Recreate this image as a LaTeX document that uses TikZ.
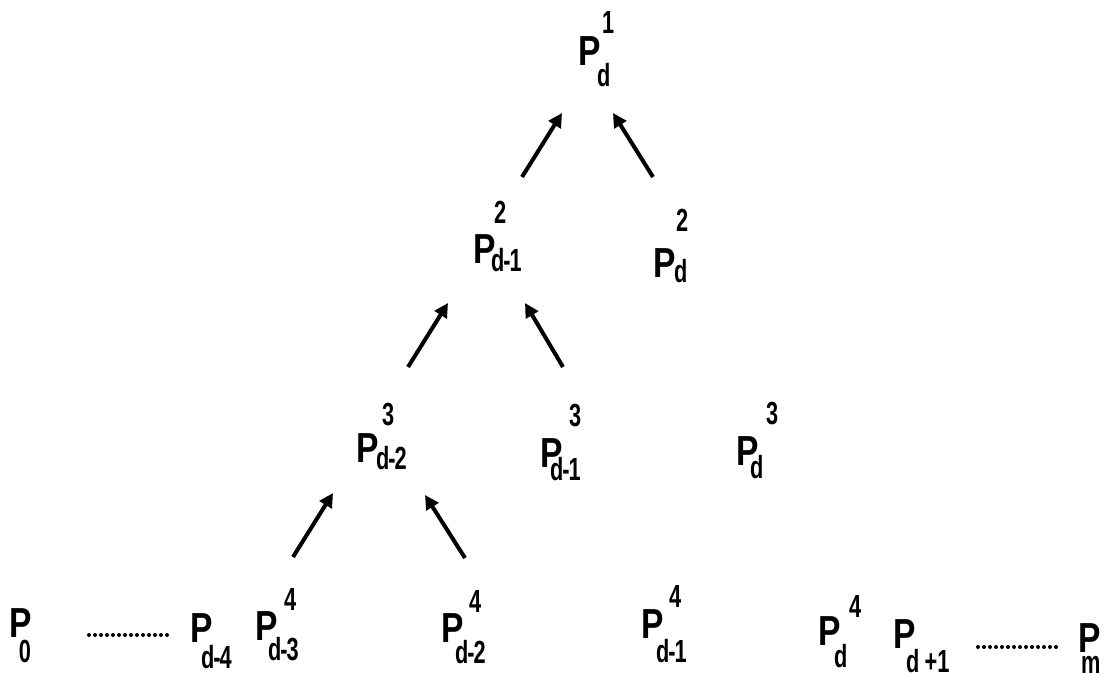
\documentclass[tikz,border=0pt]{standalone}
\usepackage{fontspec}
\setmainfont{Liberation Sans}[FakeStretch=0.8]
\newfontfamily\subf{Liberation Sans}[FakeStretch=0.68]
\usetikzlibrary{arrows.meta}
\newdimen\pxu \pxu=0.5pt
\newcommand\subsz{\subf\fontsize{16}{16}\selectfont\bfseries}
\newcommand\hy{\kern-0.5pt-\kern-0.5pt}
% #1 sub, #2 sub dx, #3 sub drop, #4 sup, #5 sup dx, #6 sup raise (all in px)
\newcommand\Plab[6]{%
\makebox[0pt][l]{\fontsize{21}{21}\selectfont\bfseries P}%
\makebox[0pt][l]{\hspace*{#2\pxu}\raisebox{-#3\pxu}{\subsz #1}}%
\makebox[0pt][l]{\hspace*{#5\pxu}\raisebox{#6\pxu}{\subsz #4}}%
\hspace*{22\pxu}}
\begin{document}
\begin{tikzpicture}[x=0.5pt,y=-0.5pt,
  lab/.style={inner sep=0pt,outer sep=0pt,anchor=base west},
  arr/.style={line width=2pt,-{Triangle[length=7pt,width=7pt]}},
  dotline/.style={line width=2pt,line cap=round,dash pattern=on 0pt off 3pt}]
\useasboundingbox (0,0) rectangle (1108,675);
% row 1
\node[lab] (p1d) at (578,65) {\Plab{d}{19}{21}{1}{24}{32}};
% row 2
\node[lab] (p2dm1) at (473,263) {\Plab{d\hy1}{18}{8}{2}{21}{40}};
\node[lab] (p2d) at (653,277) {\Plab{d}{21}{5}{2}{23}{46}};
% row 3
\node[lab] (p3dm2) at (356,462) {\Plab{d\hy2}{20}{7}{3}{26}{37}};
\node[lab] (p3dm1) at (540,467) {\Plab{d\hy1}{10}{13}{3}{29}{41}};
\node[lab] (p3d) at (736,465) {\Plab{d}{14}{13}{3}{30}{41}};
% row 4
\node[lab] (p0) at (10,637) {\Plab{0}{9}{25}{}{0}{0}};
\node[lab] (p4dm4) at (190,642) {\Plab{d\hy4}{11}{26}{}{0}{0}};
\node[lab] (p4dm3) at (255,640) {\Plab{d\hy3}{13}{20}{4}{29}{30}};
\node[lab] (p4dm2) at (441,642) {\Plab{d\hy2}{14}{21}{4}{28}{30}};
\node[lab] (p4dm1) at (641,638) {\Plab{d\hy1}{15}{24}{4}{28}{31}};
\node[lab] (p4d) at (818,645) {\Plab{d}{16}{22}{4}{31}{28}};
\node[lab] (pdp1) at (893,648) {\Plab{d\,+1}{13}{24}{}{0}{0}};
\node[lab] (pm) at (1078,652) {\Plab{m}{3}{21}{}{0}{0}};
% arrow end points
\coordinate (a1s) at (522,177); \coordinate (a1e) at (562,113);
\coordinate (a2s) at (653,177); \coordinate (a2e) at (613,113);
\coordinate (b1s) at (408,367); \coordinate (b1e) at (448,303);
\coordinate (b2s) at (563,367); \coordinate (b2e) at (525,303);
\coordinate (c1s) at (293,557); \coordinate (c1e) at (333,493);
\coordinate (c2s) at (465,558); \coordinate (c2e) at (425,495);
\draw[arr] (a1s) -- (a1e);
\draw[arr] (a2s) -- (a2e);
\draw[arr] (b1s) -- (b1e);
\draw[arr] (b2s) -- (b2e);
\draw[arr] (c1s) -- (c1e);
\draw[arr] (c2s) -- (c2e);
% dotted runs
\coordinate (d1s) at (89,635); \coordinate (d1e) at (167,635);
\coordinate (d2s) at (978,647); \coordinate (d2e) at (1057,647);
\draw[dotline] (d1s) -- (d1e);
\draw[dotline] (d2s) -- (d2e);
\end{tikzpicture}
\end{document}
